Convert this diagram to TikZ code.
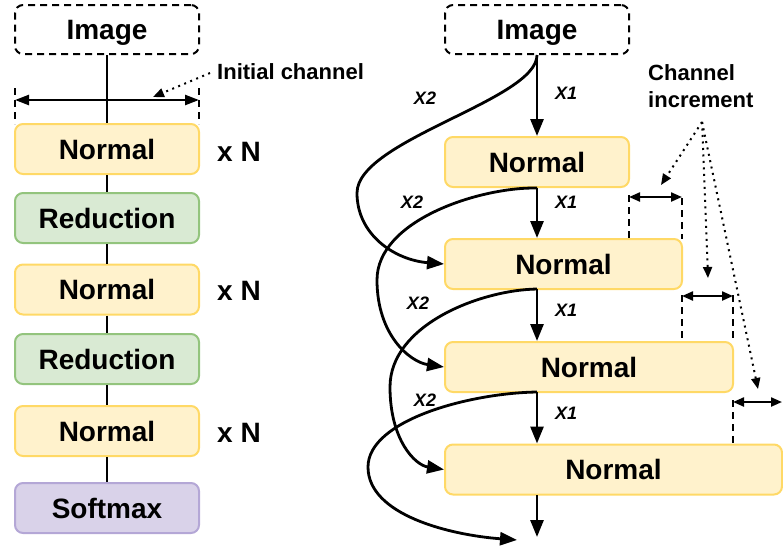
\documentclass[tikz,border=0pt]{standalone}
\usepackage{fontspec}
\setmainfont{Liberation Sans}
\usetikzlibrary{arrows.meta}
\definecolor{nfill}{HTML}{FFF2CC}
\definecolor{nstroke}{HTML}{FFD966}
\definecolor{rfill}{HTML}{D9EAD3}
\definecolor{rstroke}{HTML}{93C47D}
\definecolor{sfill}{HTML}{D9D2E9}
\definecolor{sstroke}{HTML}{B4A7D6}
\tikzset{
  box/.style={rounded corners=8pt, line width=2pt, minimum height=50pt, inner sep=0pt,
    text depth=0pt, font=\fontsize{28}{32}\selectfont\bfseries},
  nbox/.style={box, draw=nstroke, fill=nfill},
  rbox/.style={box, draw=rstroke, fill=rfill},
  sbox/.style={box, draw=sstroke, fill=sfill},
  imgbox/.style={box, draw=black, dash pattern=on 7pt off 5pt, minimum height=49pt},
  conn/.style={line width=2.8pt},
  arr/.style={conn, -{Triangle[length=17pt,width=13pt]}},
  dimarr/.style={line width=2.2pt, {Triangle[length=11pt,width=9pt]}-{Triangle[length=11pt,width=9pt]}},
  bigdim/.style={line width=2.4pt, {Triangle[length=14pt,width=10pt]}-{Triangle[length=14pt,width=10pt]}},
  dotarr/.style={line width=2pt, dash pattern=on 2pt off 4.5pt, -{Triangle[length=11pt,width=9pt]}},
  guide/.style={line width=2pt, dash pattern=on 7pt off 5pt},
  xlbl/.style={font=\fontsize{28}{32}\selectfont\bfseries, inner sep=0pt},
  note/.style={font=\fontsize{22}{27}\selectfont\bfseries, inner sep=0pt, align=left, anchor=west},
  xs/.style={font=\fontsize{18}{20}\selectfont\bfseries\itshape, inner sep=0pt}
}
\begin{document}
\begin{tikzpicture}[x=1pt, y=-1pt]
\useasboundingbox (0,0) rectangle (783,550);

% ---------- left column ----------
\node[imgbox, minimum width=184pt] (li) at (107,29.5) {Image};
\node[nbox, minimum width=184pt] (ln1) at (107,149) {Normal};
\node[rbox, minimum width=184pt] (lr1) at (107,218) {Reduction};
\node[nbox, minimum width=184pt] (ln2) at (107,289.5) {Normal};
\node[rbox, minimum width=184pt] (lr2) at (107,359) {Reduction};
\node[nbox, minimum width=184pt] (ln3) at (107,431) {Normal};
\node[sbox, minimum width=184pt] (ls) at (107,508) {Softmax};

\node[xlbl] (xn1) at (239,152) {x N};
\node[xlbl] (xn2) at (239,291) {x N};
\node[xlbl] (xn3) at (239,433) {x N};

\coordinate (gl0) at (15,88);
\coordinate (gl1) at (15,124);
\coordinate (gr0) at (199,88);
\coordinate (gr1) at (199,124);
\draw[guide] (gl0) -- (gl1);
\draw[guide] (gr0) -- (gr1);
\coordinate (icl) at (15,100);
\coordinate (icr) at (199,100);
\draw[bigdim] (icl) -- (icr);

\draw[conn] (li) -- (ln1);
\draw[conn] (ln1) -- (lr1);
\draw[conn] (lr1) -- (ln2);
\draw[conn] (ln2) -- (lr2);
\draw[conn] (lr2) -- (ln3);
\draw[conn] (ln3) -- (ls);

\node[note] (ictext) at (217,72) {Initial channel};
\coordinate (icfrom) at (210,73);
\coordinate (icto) at (153,97);
\draw[dotarr] (icfrom) -- (icto);

% ---------- right column ----------
\node[imgbox, minimum width=184pt] (ri) at (537,29.5) {Image};
\node[nbox, minimum width=184pt] (r1) at (537,162) {Normal};
\node[nbox, minimum width=237pt] (r2) at (563.5,264) {Normal};
\node[nbox, minimum width=288pt] (r3) at (589,367) {Normal};
\node[nbox, minimum width=337pt] (r4) at (613.5,469.5) {Normal};

% straight X1 arrows
\coordinate (s2) at (537,289);
\coordinate (s3) at (537,392);
\coordinate (s4) at (537,495);
\coordinate (outx1) at (537,537);
\draw[arr] (ri) -- (r1);
\draw[arr] (r1.south) -- (r1.south |- r2.north);
\draw[arr] (s2) -- (s2 |- r3.north);
\draw[arr] (s3) -- (s3 |- r4.north);
\draw[arr] (s4) -- (outx1);

\node[xs] (x1a) at (566,93) {X1};
\node[xs] (x1b) at (566,202) {X1};
\node[xs] (x1c) at (566,310) {X1};
\node[xs] (x1d) at (566,413) {X1};

% X2 skip arrows
\draw[arr] (ri.south) .. controls (537,100) and (357,140) .. (357,193)
  .. controls (357,235) and (395,260) .. (r2.west);
\draw[arr] (r1.south) .. controls (480,187) and (377,220) .. (377,280)
  .. controls (377,335) and (410,362) .. (r3.west);
\draw[arr] (s2) .. controls (480,290) and (390,325) .. (390,387)
  .. controls (390,440) and (415,465) .. (r4.west);
\coordinate (outx2) at (517,540);
\draw[arr] (s3) .. controls (470,393) and (368,420) .. (368,467)
  .. controls (368,515) and (450,535) .. (outx2);

\node[xs] (x2a) at (425,98) {X2};
\node[xs] (x2b) at (412,202) {X2};
\node[xs] (x2c) at (418,303) {X2};
\node[xs] (x2d) at (425,400) {X2};

% channel increment guides
\coordinate (a1) at (629,195); \coordinate (a2) at (629,239);
\coordinate (b1) at (682,198); \coordinate (b2) at (682,239);
\draw[guide] (a1) -- (a2);
\draw[guide] (b1) -- (b2);
\coordinate (d1l) at (629,197); \coordinate (d1r) at (682,197);
\draw[dimarr] (d1l) -- (d1r);

\coordinate (c1) at (682,295); \coordinate (c2) at (682,342);
\coordinate (e1) at (733,295); \coordinate (e2) at (733,342);
\draw[guide] (c1) -- (c2);
\draw[guide] (e1) -- (e2);
\coordinate (d2l) at (682,296); \coordinate (d2r) at (733,296);
\draw[dimarr] (d2l) -- (d2r);

\coordinate (f1) at (733,400); \coordinate (f2) at (733,444);
\draw[guide] (f1) -- (f2);
\coordinate (d3l) at (733,402); \coordinate (d3r) at (782,402);
\draw[dimarr] (d3l) -- (d3r);

\node[note] (citext) at (648,86) {Channel\\increment};
\coordinate (cifrom) at (702,122);
\coordinate (cito1) at (661,185);
\coordinate (cito2) at (708,278);
\coordinate (cito3) at (758,389);
\draw[dotarr] (cifrom) -- (cito1);
\draw[dotarr] (cifrom) -- (cito2);
\draw[dotarr] (cifrom) -- (cito3);
\end{tikzpicture}
\end{document}
